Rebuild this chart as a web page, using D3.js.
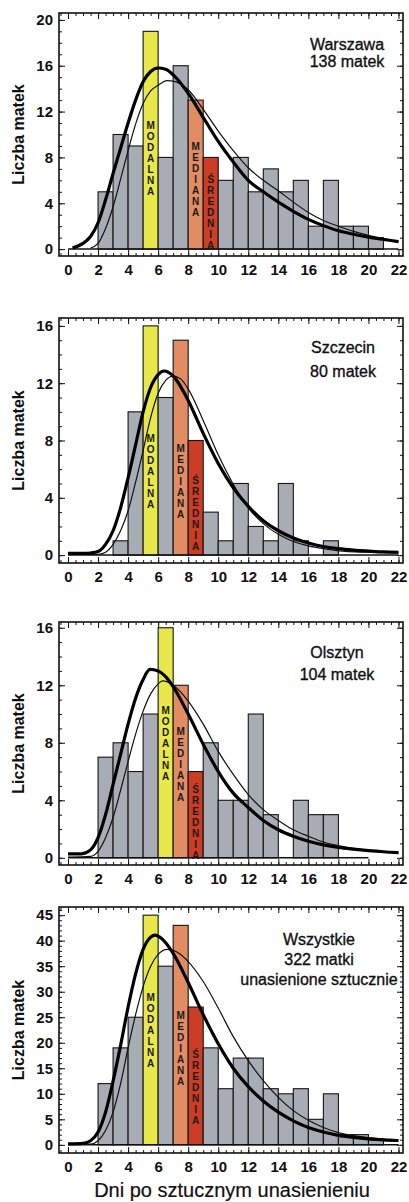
<!DOCTYPE html>
<html>
<head>
<meta charset="utf-8">
<script src="https://cdn.jsdelivr.net/npm/d3@7"></script>
<style>
  body { margin: 0; background: #fff; }
  svg { display: block; font-family: "Liberation Sans", Arial, sans-serif; }
</style>
</head>
<body>
<script>
// histogram bins: [start, start+1) days
var binStarts = d3.range(0, 21);

// counts per bin
var warszawaCounts  = [0, 0, 5, 10, 9, 19, 8, 16, 13, 8, 6, 8, 5, 7, 5, 6, 2, 6, 2, 2, 1];
var szczecinCounts  = [0, 0, 0, 1, 10, 16, 11, 15, 8, 3, 1, 5, 2, 1, 5, 1, 0, 1, 0, 0, 0];
var olsztynCounts   = [0, 0, 7, 8, 6, 10, 16, 12, 6, 8, 4, 4, 10, 3, 0, 4, 3, 3, 0, 0, 0];
var wszystkieCounts = [0, 0, 12, 19, 25, 45, 35, 43, 27, 19, 11, 17, 17, 11, 10, 11, 5, 10, 2, 2, 1];

// bins of modal, median and mean
var warszawaMarks  = [5, 8, 9];
var szczecinMarks  = [5, 7, 8];
var olsztynMarks   = [6, 7, 8];
var wszystkieMarks = [5, 7, 8];

// fitted curves: [day, count]
var warszawaThick = [[0.3,0.1],[1,0.5],[1.5,1.1],[2,2.3],[2.5,4.3],[3,6.6],[3.5,8.8],[4,11.0],[4.5,13.0],[5,14.6],[5.5,15.5],[6,15.8],[6.5,15.7],[7,15.2],[8,13.6],[9,11.5],[10,9.4],[11,7.6],[12,6.0],[13,5.0],[14,4.1],[15,3.3],[16,2.6],[17,2.05],[18,1.6],[19,1.3],[20,1.05],[21,0.85],[22,0.65]];
var warszawaThin  = [[1.5,0.1],[2,0.5],[2.5,1.8],[3,3.7],[3.5,6.1],[4,8.6],[4.5,10.9],[5,12.7],[5.5,13.8],[6,14.3],[6.6,14.7],[7,14.65],[8,13.9],[9,12.2],[10,10.3],[11,8.6],[12,7.1],[13,6.0],[14,5.1],[15,4.1],[16,3.2],[17,2.5],[18,2.0],[19,1.55],[20,1.2],[21,0.9],[22,0.65]];
var szczecinThick = [[0,0.12],[1,0.12],[1.5,0.15],[2,0.25],[2.5,0.75],[3,1.7],[3.5,3.3],[4,5.4],[4.5,7.7],[5,10.0],[5.5,11.7],[6,12.6],[6.4,12.85],[7,12.5],[8,10.8],[9,8.5],[10,6.4],[11,4.7],[12,3.4],[13,2.4],[14,1.7],[15,1.2],[16,0.85],[17,0.6],[18,0.45],[19,0.35],[20,0.28],[21,0.22],[22,0.2]];
var szczecinThin  = [[0,0.05],[2,0.05],[2.5,0.2],[3,0.75],[3.5,1.7],[4,3.1],[4.5,5.1],[5,7.3],[5.5,9.6],[6,11.3],[6.5,12.2],[7,12.5],[7.5,12.3],[8,11.6],[9,9.4],[10,7.0],[11,4.95],[12,3.3],[13,2.2],[14,1.45],[15,0.95],[16,0.65],[17,0.45],[18,0.3],[20,0.2],[22,0.15]];
var olsztynThick  = [[0,0.28],[0.9,0.28],[1.5,0.55],[2,1.4],[2.5,3.0],[3,5.1],[3.5,7.2],[4,9.3],[4.5,11.1],[5,12.4],[5.45,13.1],[6,13.0],[6.5,12.6],[7,11.9],[8,10.0],[9,7.9],[10,6.0],[11,4.5],[12,3.5],[13,2.6],[14,1.95],[15,1.5],[16,1.15],[17,0.9],[18,0.72],[19,0.6],[20,0.5],[21,0.42],[22,0.36]];
var olsztynThin   = [[0,0.05],[1.5,0.1],[2,0.45],[2.5,1.4],[3,2.8],[3.5,4.7],[4,6.7],[4.5,8.6],[5,10.2],[5.5,11.4],[6,12.1],[6.3,12.3],[7,12.0],[8,10.9],[9,9.3],[10,7.4],[11,5.8],[12,4.4],[13,3.35],[14,2.6],[15,1.95],[16,1.5],[17,1.1],[18,0.85],[19,0.65],[20,0.52],[21,0.42],[22,0.35]];
var wszystkieThick = [[0,0.2],[1,0.3],[1.5,0.8],[2,2.5],[2.5,6.4],[3,12.5],[3.5,19.5],[4,27.0],[4.5,33.5],[5,38.3],[5.5,40.7],[5.8,41.1],[6,40.9],[6.5,39.6],[7,37.5],[8,31.8],[9,25.5],[10,19.8],[11,15.0],[12,11.4],[13,8.6],[14,6.4],[15,4.7],[16,3.4],[17,2.5],[18,1.85],[19,1.45],[20,1.15],[21,0.95],[22,0.85]];
var wszystkieThin  = [[0,0.1],[1.5,0.15],[2,0.8],[2.5,2.8],[3,6.4],[3.5,12.0],[4,19.0],[4.5,25.5],[5,31.0],[5.5,35.0],[6,37.3],[6.6,38.3],[7,38.1],[7.5,37.3],[8,35.9],[9,32.0],[10,26.8],[11,21.2],[12,16.5],[13,12.6],[14,9.3],[15,6.7],[16,4.8],[17,3.4],[18,2.4],[19,1.8],[20,1.4],[21,1.15],[22,1.0]];

// captions
var warszawaText  = ["Warszawa", "138 matek"];
var szczecinText  = ["Szczecin", "80 matek"];
var olsztynText   = ["Olsztyn", "104 matek"];
var wszystkieText = ["Wszystkie", "322 matki", "unasienione sztucznie"];
var markLabels = ["MODALNA", "MEDIANA", "ŚREDNIA"];

var xTicks = d3.range(0, 23, 2);

var width = 409, height = 1202;
var colGray = "#a8adb5", colYellow = "#e8e84a", colOrange = "#e28c64", colRed = "#cb3d24";

var svg = d3.select("body").append("svg")
    .attr("width", width)
    .attr("height", height);

var x = d3.scaleLinear().domain([-0.6, 22.3]).range([59, 403]);

var panels = [
  {counts: warszawaCounts, marks: warszawaMarks, thick: warszawaThick, thin: warszawaThin, text: warszawaText,
   top: 13, bottom: 256, yMin: -0.6, yMax: 20.6, major: 4, yMaxTick: 20, baseEnd: 22,
   textX: 347, textY: [50, 67], labelOff: [127, 106, 73]},
  {counts: szczecinCounts, marks: szczecinMarks, thick: szczecinThick, thin: szczecinThin, text: szczecinText,
   top: 318, bottom: 563, yMin: -0.55, yMax: 16.55, major: 4, yMaxTick: 16, baseEnd: 22,
   textX: 343, textY: [353, 377], labelOff: [120, 110, 78]},
  {counts: olsztynCounts, marks: olsztynMarks, thick: olsztynThick, thin: olsztynThin, text: olsztynText,
   top: 622, bottom: 865, yMin: -0.5, yMax: 16.4, major: 4, yMaxTick: 16, baseEnd: 20,
   textX: 337, textY: [658, 680], labelOff: [151, 130, 72]},
  {counts: wszystkieCounts, marks: wszystkieMarks, thick: wszystkieThick, thin: wszystkieThin, text: wszystkieText,
   top: 907, bottom: 1153, yMin: -1.6, yMax: 46.6, major: 5, yMaxTick: 45, baseEnd: 22,
   textX: 319, textY: [945, 965, 985], labelOff: [151, 133, 94]}
];

panels.forEach(drawPanel);

// x axis title
svg.append("text")
    .attr("x", 232)
    .attr("y", 1197)
    .attr("text-anchor", "middle")
    .attr("font-size", 20)
    .attr("fill", "#111")
    .attr("stroke", "#111").attr("stroke-width", 0.2)
    .text("Dni po sztucznym unasienieniu");

function drawPanel(p){
    var y = d3.scaleLinear().domain([p.yMin, p.yMax]).range([p.bottom, p.top]);
    var g = svg.append("g");

    var bins = binStarts.map(function(b, i){ return {b: b, v: p.counts[i]}; })
        .filter(function(d){ return d.v > 0; });

    g.selectAll(".bar")
        .data(bins)
        .enter()
        .append("rect")
        .attr("class", "bar")
        .attr("x", function(d){ return x(d.b); })
        .attr("width", function(d){ return x(d.b + 1) - x(d.b); })
        .attr("y", function(d){ return y(d.v); })
        .attr("height", function(d){ return y(0) - y(d.v); })
        .attr("fill", function(d){
            if (d.b === p.marks[0]) return colYellow;
            if (d.b === p.marks[1]) return colOrange;
            if (d.b === p.marks[2]) return colRed;
            return colGray;
        })
        .attr("stroke", "#151515")
        .attr("stroke-width", 1.1);

    //vertical letters in the marked bars
    p.marks.forEach(function(b, k){
        var letters = markLabels[k].split("");
        g.selectAll(".lab" + k)
            .data(letters)
            .enter()
            .append("text")
            .attr("x", x(b + 0.5))
            .attr("y", function(d, i){ return y(0) - p.labelOff[k] + 7 + i * 11; })
            .attr("text-anchor", "middle")
            .attr("font-size", 10)
            .attr("font-weight", "bold")
            .attr("fill", "#1a1a1a")
            .text(function(d){ return d; });
    });

    // zero line
    g.append("line")
        .attr("x1", x(0)).attr("x2", x(p.baseEnd))
        .attr("y1", y(0)).attr("y2", y(0))
        .attr("stroke", "#111").attr("stroke-width", 1.5);

    var line = d3.line()
        .x(function(d){ return x(d[0]); })
        .y(function(d){ return y(d[1]); })
        .curve(d3.curveMonotoneX);

    g.append("path").attr("d", line(p.thin))
        .attr("fill", "none").attr("stroke", "#111").attr("stroke-width", 1.2);
    g.append("path").attr("d", line(p.thick))
        .attr("fill", "none").attr("stroke", "#000").attr("stroke-width", 3.2);

    // frame
    g.append("rect")
        .attr("x", x.range()[0]).attr("y", p.top)
        .attr("width", x.range()[1] - x.range()[0])
        .attr("height", p.bottom - p.top)
        .attr("fill", "none").attr("stroke", "#111").attr("stroke-width", 1.6);

    var yMajor = d3.range(0, p.yMaxTick + 0.01, p.major);
    var yMinor = d3.range(0, p.yMax, 1);
    var xMinor = d3.range(-0.5, 22.3, 0.5);

    function clean(sel){
        sel.select(".domain").remove();
        sel.selectAll(".tick line").attr("stroke", "#111").attr("stroke-width", 1);
    }

    g.append("g").attr("transform", "translate(0," + p.bottom + ")")
        .call(d3.axisBottom(x).tickValues(xMinor).tickSize(-3).tickFormat("")).call(clean);
    g.append("g").attr("transform", "translate(0," + p.top + ")")
        .call(d3.axisTop(x).tickValues(xMinor).tickSize(-3).tickFormat("")).call(clean);
    g.append("g").attr("transform", "translate(0," + p.top + ")")
        .call(d3.axisTop(x).tickValues(xTicks).tickSize(-6).tickFormat("")).call(clean);
    g.append("g").attr("transform", "translate(0," + p.bottom + ")")
        .call(d3.axisBottom(x).tickValues(xTicks).tickSize(-6).tickPadding(8))
        .call(clean)
        .attr("font-size", 15).attr("font-weight", "bold")
        .attr("font-family", "Liberation Sans, Arial, sans-serif")
        .selectAll("text").attr("fill", "#111");

    var xl = x.range()[0], xr = x.range()[1];
    g.append("g").attr("transform", "translate(" + xl + ",0)")
        .call(d3.axisLeft(y).tickValues(yMinor).tickSize(-3).tickFormat("")).call(clean);
    g.append("g").attr("transform", "translate(" + xr + ",0)")
        .call(d3.axisRight(y).tickValues(yMinor).tickSize(-3).tickFormat("")).call(clean);
    g.append("g").attr("transform", "translate(" + xr + ",0)")
        .call(d3.axisRight(y).tickValues(yMajor).tickSize(-6).tickFormat("")).call(clean);
    g.append("g").attr("transform", "translate(" + xl + ",0)")
        .call(d3.axisLeft(y).tickValues(yMajor).tickSize(-6).tickPadding(6))
        .call(clean)
        .attr("font-size", 15).attr("font-weight", "bold")
        .attr("font-family", "Liberation Sans, Arial, sans-serif")
        .selectAll("text").attr("fill", "#111");

    // y title
    g.append("text")
        .attr("transform", "translate(24," + ((p.top + p.bottom) / 2) + ") rotate(-90)")
        .attr("text-anchor", "middle")
        .attr("font-size", 16)
        .attr("font-weight", "bold")
        .attr("fill", "#111")
        .text("Liczba matek");

    // caption
    g.selectAll(".cap")
        .data(p.text)
        .enter()
        .append("text")
        .attr("x", p.textX)
        .attr("y", function(d, i){ return p.textY[i]; })
        .attr("text-anchor", "middle")
        .attr("font-size", 16)
        .attr("fill", "#111")
        .attr("stroke", "#111").attr("stroke-width", 0.35)
        .text(function(d){ return d; });
}
</script>
</body>
</html>
